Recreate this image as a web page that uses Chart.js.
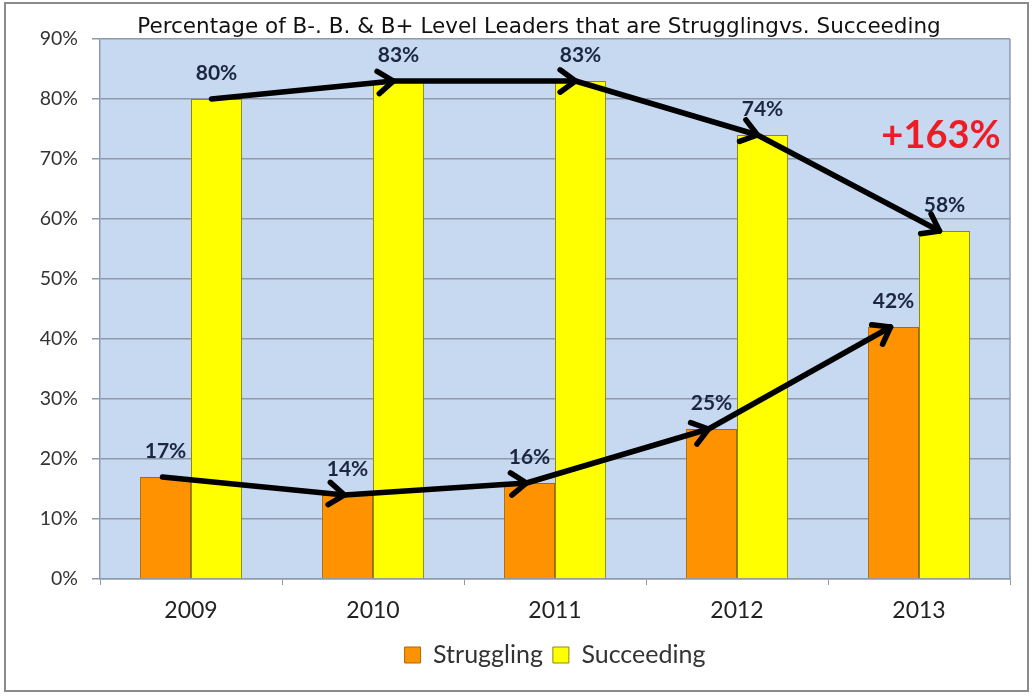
<!DOCTYPE html>
<html>
<head>
<meta charset="utf-8">
<style>
  html, body { margin: 0; padding: 0; background: #fff; }
  #wrap { position: relative; width: 1033px; height: 697px; }
</style>
<script src="https://cdn.jsdelivr.net/npm/chart.js@4"></script>
</head>
<body>
<div id="wrap"><canvas id="chart" width="1033" height="697"></canvas></div>
<script>
const years = ["2009", "2010", "2011", "2012", "2013"];
const struggling = [17, 14, 16, 25, 42];
const succeeding = [80, 83, 83, 74, 58];
const yTicks = [0, 10, 20, 30, 40, 50, 60, 70, 80, 90];
const growthNote = "+163%";
const titleText = "Percentage of B-. B. & B+ Level Leaders that are Strugglingvs. Succeeding";

const plotBg = "#c6d9f1";
const gridGray = "#8d9aab";
const uiFont = "Lato, 'Noto Sans', sans-serif";

// white page, outer frame, plot fill, title
const frame = {
  id: "frame",
  beforeDraw(chart) {
    const { ctx, chartArea } = chart;
    ctx.save();
    ctx.fillStyle = "#fff";
    ctx.fillRect(0, 0, chart.width, chart.height);
    ctx.strokeStyle = "#8a8a8a";
    ctx.lineWidth = 2;
    ctx.strokeRect(5, 3, chart.width - 10, chart.height - 9);
    ctx.fillStyle = plotBg;
    ctx.fillRect(chartArea.left, chartArea.top, chartArea.right - chartArea.left, chartArea.bottom - chartArea.top);
    // title sits a bit left of the plot centre, as in the original
    ctx.font = "21.5px 'DejaVu Sans', sans-serif";
    ctx.fillStyle = "#111";
    ctx.textAlign = "center";
    ctx.textBaseline = "middle";
    ctx.fillText(titleText, (chartArea.left + chartArea.right) / 2 - 16, chartArea.top - 12);
    ctx.restore();
  },
  beforeDatasetsDraw(chart) {
    const { ctx, chartArea } = chart;
    ctx.save();
    ctx.strokeStyle = gridGray;
    ctx.lineWidth = 1.5;
    ctx.beginPath();
    ctx.moveTo(chartArea.right, chartArea.top);
    ctx.lineTo(chartArea.right, chartArea.bottom);
    ctx.stroke();
    ctx.restore();
  }
};

function arrowPath(ctx, pts) {
  ctx.beginPath();
  ctx.moveTo(pts[0].x, pts[0].y);
  for (let i = 1; i < pts.length; i++) ctx.lineTo(pts[i].x, pts[i].y);
  ctx.stroke();
  for (let i = 1; i < pts.length; i++) {
    const a = pts[i - 1], b = pts[i];
    const ang = Math.atan2(b.y - a.y, b.x - a.x);
    const len = 19, spread = Math.PI / 5;
    ctx.beginPath();
    ctx.moveTo(b.x - len * Math.cos(ang - spread), b.y - len * Math.sin(ang - spread));
    ctx.lineTo(b.x, b.y);
    ctx.lineTo(b.x - len * Math.cos(ang + spread), b.y - len * Math.sin(ang + spread));
    ctx.stroke();
  }
}

const annotations = {
  id: "annotations",
  afterDatasetsDraw(chart) {
    const { ctx, scales } = chart;
    ctx.save();
    // value labels
    ctx.font = "bold 21px " + uiFont;
    ctx.fillStyle = "#1c2640";
    ctx.textAlign = "center";
    ctx.textBaseline = "middle";
    chart.data.datasets.forEach((ds, di) => {
      chart.getDatasetMeta(di).data.forEach((bar, i) => {
        ctx.fillText(ds.data[i] + "%", bar.x, bar.y - 26);
      });
    });
    // trend arrows
    ctx.strokeStyle = "#000";
    ctx.lineWidth = 5.5;
    ctx.lineCap = "round";
    ctx.lineJoin = "round";
    const low = chart.getDatasetMeta(0).data.map(b => ({ x: b.x - 3, y: b.y }));
    const high = chart.getDatasetMeta(1).data.map(b => ({ x: b.x - 5, y: b.y }));
    arrowPath(ctx, low);
    arrowPath(ctx, high);
    // growth note
    ctx.font = "bold 38px " + uiFont;
    ctx.fillStyle = "#ee1c25";
    ctx.fillText(growthNote, scales.x.getPixelForValue(years.length - 1) + 22, scales.y.getPixelForValue(73.8));
    ctx.restore();
  }
};

new Chart(document.getElementById("chart"), {
  type: "bar",
  data: {
    labels: years,
    datasets: [
      {
        label: "Struggling",
        data: struggling,
        backgroundColor: "#ff9200",
        borderColor: "#a8690e",
        borderWidth: 1
      },
      {
        label: "Succeeding",
        data: succeeding,
        backgroundColor: "#ffff00",
        borderColor: "#8c8a10",
        borderWidth: 1
      }
    ]
  },
  options: {
    responsive: false,
    devicePixelRatio: 1,
    animation: false,
    layout: { padding: { left: 8, right: 23, top: 39, bottom: 19.5 } },
    datasets: { bar: { categoryPercentage: 0.56, barPercentage: 1.0 } },
    plugins: {
      title: { display: false },
      legend: {
        position: "bottom",
        fullSize: false,
        labels: {
          boxWidth: 16,
          boxHeight: 16,
          padding: 10,
          color: "#333",
          font: { family: uiFont, size: 25 }
        }
      },
      tooltip: { enabled: false }
    },
    scales: {
      x: {
        grid: { display: true, drawOnChartArea: false, drawTicks: true, tickLength: 6, color: gridGray, offset: true },
        border: { color: gridGray, width: 1.5 },
        ticks: { color: "#222", padding: 12, font: { family: uiFont, size: 23 } },
        afterFit(scale) { scale.height = 53.5; }
      },
      y: {
        min: 0,
        max: 90,
        afterBuildTicks(scale) { scale.ticks = yTicks.map(v => ({ value: v })); },
        grid: { color: gridGray, lineWidth: 1.5, tickLength: 8 },
        border: { color: gridGray, width: 1.5 },
        ticks: {
          color: "#333",
          padding: 14,
          font: { family: uiFont, size: 19.5 },
          callback: v => v + "%"
        },
        afterFit(scale) { scale.width = 92; }
      }
    }
  },
  plugins: [frame, annotations]
});
</script>
</body>
</html>
